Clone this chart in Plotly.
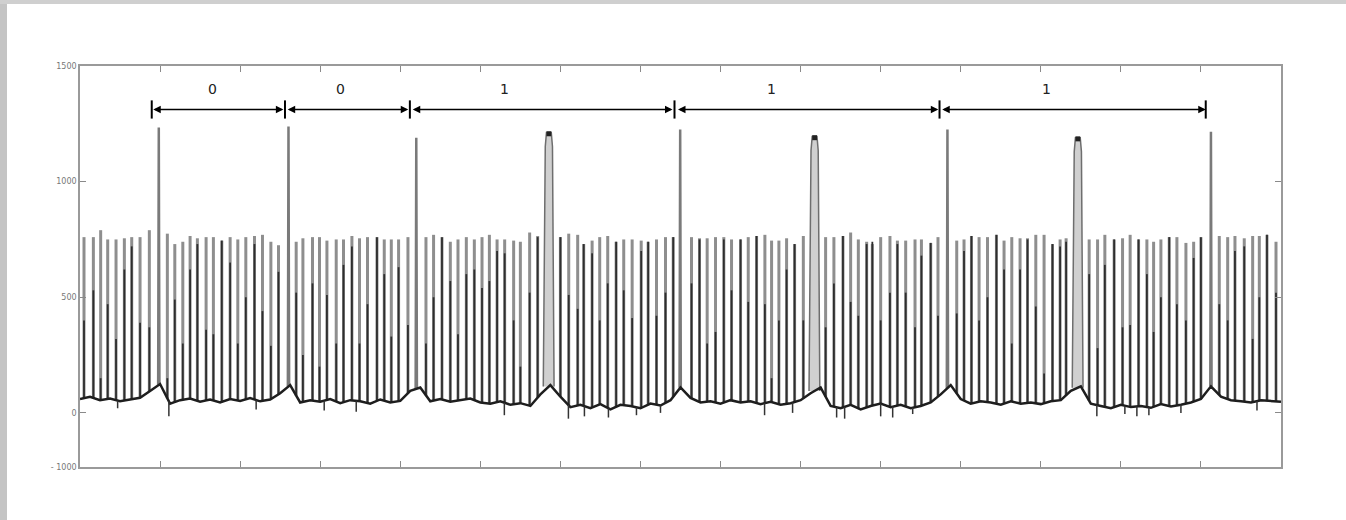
import numpy as np
import plotly.graph_objects as go

# ---------------- data ----------------
# regular (small) spikes: time, full height, height of the dark part
spike_t = [0.05, 0.167, 0.258, 0.346, 0.45, 0.554, 0.646, 0.75, 0.866,
           1.091, 1.184, 1.284, 1.375, 1.466, 1.575, 1.666, 1.771, 1.875, 1.971, 2.071, 2.179, 2.279, 2.384, 2.479,
           2.7, 2.784, 2.904, 2.991, 3.084, 3.2, 3.291, 3.396, 3.491, 3.591, 3.709, 3.8, 3.888, 3.979, 4.096,
           4.321, 4.416, 4.521, 4.625, 4.721, 4.825, 4.925,
           5.021, 5.113, 5.209, 5.304, 5.416, 5.5, 5.616, 5.716,
           6.0, 6.104, 6.216, 6.291, 6.396, 6.491, 6.591, 6.696, 6.791, 6.896, 7.009, 7.096, 7.2, 7.3125, 7.409,
           7.6375, 7.7375, 7.833, 7.9375, 8.041, 8.1375, 8.25, 8.346, 8.45, 8.554, 8.6375, 8.729, 8.825, 8.925, 9.034,
           9.3125, 9.416, 9.529, 9.625, 9.721, 9.825, 9.896,
           10.0, 10.116, 10.209, 10.3125, 10.429, 10.509, 10.625, 10.716,
           10.95, 11.041, 11.134, 11.229, 11.334, 11.446, 11.541, 11.6375, 11.741, 11.834, 11.9375, 12.041, 12.146,
           12.241, 12.316,
           12.604, 12.709, 12.8, 12.916, 13.021, 13.116, 13.221, 13.325, 13.409, 13.5, 13.604, 13.7, 13.8125, 13.909,
           14.0,
           14.229, 14.334, 14.425, 14.541, 14.646, 14.729, 14.825, 14.9375]
spike_h = [760, 760, 790, 750, 750, 755, 760, 760, 790,
           775, 730, 740, 765, 755, 760, 760, 745, 760, 750, 760, 765, 770, 740, 725,
           740, 755, 760, 760, 745, 750, 750, 765, 755, 760, 760, 750, 750, 750, 760,
           760, 770, 760, 740, 750, 760, 750,
           760, 770, 750, 750, 745, 740, 780, 765,
           760, 775, 770, 730, 745, 760, 765, 740, 750, 750, 745, 740, 750, 760, 760,
           760, 755, 755, 760, 760, 750, 750, 760, 765, 770, 745, 745, 755, 730, 765,
           760, 760, 765, 780, 750, 740, 730,
           760, 765, 745, 745, 750, 750, 735, 760,
           745, 750, 765, 760, 760, 770, 745, 760, 755, 755, 770, 770, 730,
           750, 755,
           750, 750, 770, 750, 755, 770, 750, 750, 740, 750, 760, 760, 735, 740,
           760,
           765, 760, 765, 755, 765, 765, 770, 740]
spike_dark = [400, 530, 150, 470, 320, 620, 720, 390, 370,
              150, 490, 300, 620, 730, 360, 340, 745, 650, 300, 500, 730, 440, 290, 610,
              520, 250, 560, 200, 510, 300, 640, 720, 300, 470, 760, 600, 330, 630, 380,
              300, 500, 760, 570, 340, 600, 620,
              540, 570, 700, 690, 400, 200, 520, 760,
              760, 510, 450, 730, 690, 400, 560, 740, 530, 410, 700, 740, 420, 520, 760,
              560, 750, 300, 350, 750, 530, 750, 480, 765, 470, 150, 400, 620, 730, 400,
              370, 560, 765, 480, 420, 730, 740,
              400, 520, 730, 520, 370, 680, 735, 420,
              430, 700, 765, 400, 500, 770, 620, 300, 620, 750, 460, 170, 730,
              720, 740,
              600, 280, 640, 750, 370, 380, 750, 600, 350, 500, 760, 470, 400, 670,
              760,
              470, 400, 700, 720, 320, 500, 770, 520]

# tall narrow spikes and tall wide pulses
big_t = [0.984, 2.604, 4.2, 7.496, 10.834, 14.125]
big_h = [1234, 1238, 1190, 1225, 1225, 1216]
wide_t = [5.856, 9.175, 12.4625]
wide_h = [1212, 1195, 1190]

# baseline, sampled every 0.125 time units from 0 to 15
base_v = [60, 70, 55, 62, 50, 58, 65, 95, 125, 40, 55, 62, 48, 58, 45, 60,
          52, 64, 50, 58, 85, 120, 45, 55, 48, 60, 42, 55, 50, 40, 58, 45,
          52, 95, 110, 50, 60, 48, 55, 62, 45, 40, 50, 35, 42, 30, 80, 120,
          70, 25, 35, 20, 38, 15, 35, 30, 20, 40, 32, 55, 110, 65, 45, 50,
          40, 55, 45, 50, 38, 48, 35, 42, 55, 85, 110, 30, 20, 35, 15, 30,
          40, 25, 35, 20, 30, 45, 80, 120, 60, 40, 50, 45, 35, 50, 40, 45,
          38, 50, 55, 95, 115, 40, 30, 20, 35, 25, 30, 22, 38, 28, 35, 45,
          60, 115, 70, 55, 50, 45, 55, 50, 48]
base_t = np.linspace(0, 15, len(base_v))

# short downward noise dips on the baseline
dip_t = [0.47, 1.11, 2.2, 3.05, 3.45, 5.3, 6.1, 6.3, 6.6, 6.95, 7.25, 8.55, 8.9,
         9.45, 9.55, 10.0, 10.15, 10.4, 12.7, 13.05, 13.2, 13.35, 13.75, 14.7]
dip_v = [20, -15, 15, 10, 5, -10, -25, -15, -20, -10, 0, -10, 0,
         -20, -25, -15, -20, -5, -15, -5, -15, -10, 0, 10]

# bit annotation
seg_start = [0.896, 2.575, 4.1375, 7.45, 10.75]
seg_end = [2.54, 4.10, 7.40, 10.72, 14.06]
seg_label = ["0", "0", "1", "1", "1"]
label_x = [1.65, 3.25, 5.3, 8.64, 12.075]
bar_x = [0.896, 2.56, 4.12, 7.425, 10.735, 14.06]
arrow_y = 1312
label_y = 1400

y_tickvals = [-234, 0, 500, 1000, 1500]
y_ticktext = ["- 1000", "0", "500", "1000", "1500"]
x_tickvals = list(range(1, 15))

# ---------------- build traces ----------------
def base_at(t):
    return float(np.interp(t, base_t, base_v))

gx, gy, dx, dy = [], [], [], []
for t, h, d in zip(spike_t, spike_h, spike_dark):
    b = base_at(t)
    gx += [t, t, None]
    gy += [b, h, None]
    dx += [t, t, None]
    dy += [b, d, None]

bx, by = [], []
for t, h in zip(big_t, big_h):
    b = base_at(t)
    bx += [t - 0.008, t, t + 0.008, None]
    by += [b, h, b, None]

wx, wy, cx, cy = [], [], [], []
for t, h in zip(wide_t, wide_h):
    b = base_at(t)
    wx += [t - 0.07, t - 0.045, t - 0.03, t + 0.03, t + 0.045, t + 0.065, None]
    wy += [b, h - 60, h, h, h - 60, b, None]
    cx += [t - 0.03, t + 0.03, None]
    cy += [h - 5, h - 5, None]

nx, ny = [], []
for t, v in zip(dip_t, dip_v):
    b = base_at(t)
    nx += [t, t, None]
    ny += [b, v, None]

fig = go.Figure()
fig.add_trace(go.Scatter(x=gx, y=gy, mode="lines", line=dict(color="#8e8e8e", width=3),
                         hoverinfo="skip", showlegend=False))
fig.add_trace(go.Scatter(x=dx, y=dy, mode="lines", line=dict(color="#2e2e2e", width=1.8),
                         hoverinfo="skip", showlegend=False))
fig.add_trace(go.Scatter(x=wx, y=wy, mode="lines", fill="toself", fillcolor="#d0d0d0",
                         line=dict(color="#6e6e6e", width=1.5), hoverinfo="skip", showlegend=False))
fig.add_trace(go.Scatter(x=cx, y=cy, mode="lines", line=dict(color="#222222", width=5),
                         hoverinfo="skip", showlegend=False))
fig.add_trace(go.Scatter(x=bx, y=by, mode="lines", line=dict(color="#7a7a7a", width=2.5),
                         hoverinfo="skip", showlegend=False))
fig.add_trace(go.Scatter(x=list(base_t), y=base_v, mode="lines", line=dict(color="#1e1e1e", width=2.5),
                         hoverinfo="skip", showlegend=False))
fig.add_trace(go.Scatter(x=nx, y=ny, mode="lines", line=dict(color="#333333", width=1.5),
                         hoverinfo="skip", showlegend=False))
fig.add_trace(go.Scatter(x=bar_x, y=[arrow_y] * len(bar_x), mode="markers",
                         marker=dict(symbol="line-ns-open", size=13, color="black",
                                     line=dict(color="black", width=2)),
                         hoverinfo="skip", showlegend=False))

for s, e in zip(seg_start, seg_end):
    fig.add_annotation(x=e, y=arrow_y, ax=s, ay=arrow_y, xref="x", yref="y", axref="x", ayref="y",
                       text="", showarrow=True, arrowhead=2, startarrowhead=2, arrowside="end+start",
                       arrowsize=1.0, arrowwidth=1.5, arrowcolor="black", standoff=0, startstandoff=0)
for lx, lab in zip(label_x, seg_label):
    fig.add_annotation(x=lx, y=label_y, xref="x", yref="y", text=lab, showarrow=False,
                       font=dict(family="DejaVu Sans", size=14, color="#222"))

# grey frame strips of the page (left and top)
fig.add_shape(type="rect", xref="paper", yref="paper", xsizemode="pixel", ysizemode="scaled",
              xanchor=0, x0=-81, x1=-73, y0=-0.3, y1=1.3, fillcolor="#c4c4c4", line_width=0, layer="below")
fig.add_shape(type="rect", xref="paper", yref="paper", xsizemode="scaled", ysizemode="pixel",
              yanchor=1, y0=67, y1=62, x0=-0.08, x1=1.07, fillcolor="#cfcfcf", line_width=0, layer="below")

axis_common = dict(showline=True, linecolor="#9a9a9a", linewidth=1.5, mirror="ticks",
                   ticks="inside", ticklen=6, tickcolor="#8a8a8a", tickwidth=1.2,
                   showgrid=False, zeroline=False)
fig.update_xaxes(range=[0, 15], tickvals=x_tickvals, showticklabels=False, **axis_common)
fig.update_yaxes(range=[-234, 1500], tickvals=y_tickvals, ticktext=y_ticktext,
                 tickfont=dict(family="DejaVu Sans", size=8, color="#777"), **axis_common)

fig.update_layout(width=1346, height=520, margin=dict(l=80, r=65, t=66, b=53),
                  paper_bgcolor="white", plot_bgcolor="white", showlegend=False)

fig.write_html("out.html", config={"displayModeBar": False},
               post_script="document.body.style.margin='0';")
